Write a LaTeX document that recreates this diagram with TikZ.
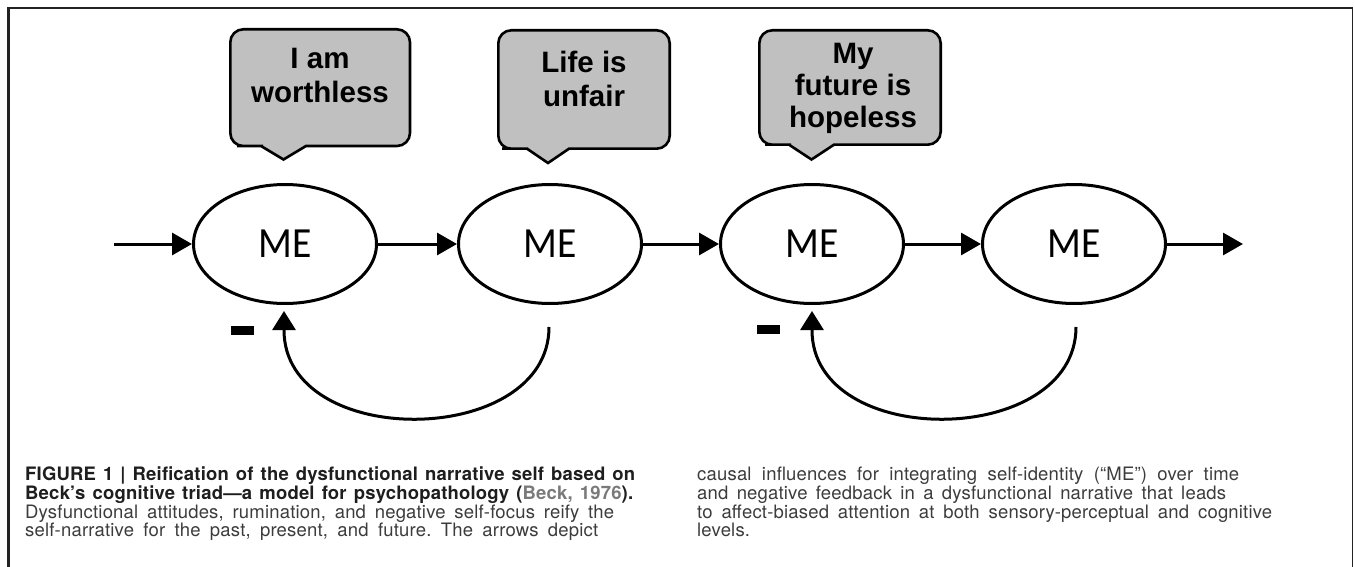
\documentclass[tikz,border=0pt]{standalone}
\usepackage{fontspec}
\setmainfont{TeX Gyre Heros}
\newfontfamily\bubblefont{Liberation Sans}
\newfontfamily\mefont[FakeStretch=0.92]{Carlito}
\newfontfamily\capfont[LetterSpace=1]{TeX Gyre Heros}
\usetikzlibrary{arrows.meta,shapes.geometric}
\definecolor{bubblegray}{HTML}{C0C0C0}
\definecolor{framegray}{HTML}{222222}
\definecolor{captext}{HTML}{3C3C3C}
\definecolor{capbold}{HTML}{1E1E1E}
\definecolor{citegray}{HTML}{7A7A7A}
\newcommand\capline[2]{\makebox[#1][s]{#2}}
\frenchspacing

\begin{document}
\begin{tikzpicture}[x=1pt,y=-1pt,
  me/.style={ellipse, draw, line width=3pt, minimum width=183pt, minimum height=119pt, inner sep=0pt, font=\mefont\fontsize{43}{43}\selectfont},
  link/.style={line width=3pt, -{Triangle[length=20pt,width=22pt]}},
  fback/.style={line width=3pt, -{Triangle[length=19pt,width=23pt]}},
  bubble/.style={draw, line width=2.6pt, fill=bubblegray},
  thought/.style={align=center, inner sep=0pt, font=\bubblefont\bfseries\fontsize{29.5}{34}\selectfont},
  minus/.style={fill, inner sep=0pt, minimum width=23pt, minimum height=9pt},
  capline/.style={anchor=base west, inner sep=0pt, font=\capfont\fontsize{18.5}{18.8}\selectfont}]
\useasboundingbox (0,0) rectangle (1355,567);

% frame
\draw[framegray, line width=2.7pt] (8.7,567) -- (8.7,6.9);
\draw[framegray, line width=2.3pt] (7.4,8) -- (1353.3,8);
\draw[framegray, line width=1.2pt] (1352.7,8) -- (1352.7,567);

% thought bubbles
\draw[bubble] (350,146) [rounded corners=13pt] -- (410,146) -- (410,29.3) -- (230.3,29.3) -- (230.3,146) -- (250,146) [sharp corners] -- (261,146) -- (283.5,159.5) -- (306,146) -- cycle;
\node[thought] (th1) at (320,75) {I am\\worthless};
\draw[bubble] (600,148.7) [rounded corners=13pt] -- (669.7,148.7) -- (669.7,30.3) -- (498.3,30.3) -- (498.3,148.7) -- (515,148.7) [sharp corners] -- (527,148.7) -- (548,163) -- (569,148.7) -- cycle;
\node[thought] (th2) at (584,79) {Life is\\unfair};
\draw[bubble] (880,144.7) [rounded corners=13pt] -- (940.7,144.7) -- (940.7,30.3) -- (759.3,30.3) -- (759.3,144.7) -- (778,144.7) [sharp corners] -- (789,144.7) -- (811.5,159.5) -- (834,144.7) -- cycle;
\node[thought, font=\bubblefont\bfseries\fontsize{29.5}{32}\selectfont] (th3) at (853,88) {My\\future is\\hopeless};

% self over time
\node[me] (me1) at (285,244) {ME};
\node[me] (me2) at (550,244) {ME};
\node[me] (me3) at (812,244) {ME};
\node[me] (me4) at (1074,244) {ME};
\coordinate (in) at (114,244);
\coordinate (out) at (1243,244);
\draw[link] (in) -- (me1);
\draw[link] (me1) -- (me2);
\draw[link] (me2) -- (me3);
\draw[link] (me3) -- (me4);
\draw[link] (me4) -- (out);

% negative feedback
\coordinate (fb1s) at (549,327);
\coordinate (fb1e) at (284,330);
\coordinate (fb1t) at (284,311);
\draw[fback] (fb1s) .. controls +(0,121) and +(0,121) .. (fb1e) -- (fb1t);
\node[minus] (neg1) at (242.5,330) {};
\coordinate (fb2s) at (1076,327);
\coordinate (fb2e) at (812,330);
\coordinate (fb2t) at (812,311);
\draw[fback] (fb2s) .. controls +(0,121) and +(0,121) .. (fb2e) -- (fb2t);
\node[minus] (neg2) at (768,329.5) {};

% caption
\node[capline, text=capbold] (capA1) at (25,480.5) {\bfseries\capline{610pt}{FIGURE 1 | Reification of the dysfunctional narrative self based on}};
\node[capline, text=capbold] (capA2) at (25,499.3) {\bfseries\capline{608pt}{Beck’s cognitive triad—a model for psychopathology (\textcolor{citegray}{Beck, 1976}).}};
\node[capline, text=captext] (capA3) at (25,518.1) {\capline{589pt}{Dysfunctional attitudes, rumination, and negative self-focus reify the}};
\node[capline, text=captext] (capA4) at (25,536.9) {\capline{573pt}{self-narrative for the past, present, and future. The arrows depict}};
\node[capline, text=captext] (capB1) at (697,480.5) {\capline{542pt}{causal influences for integrating self-identity (“ME”) over time}};
\node[capline, text=captext] (capB2) at (697,499.3) {\capline{529pt}{and negative feedback in a dysfunctional narrative that leads}};
\node[capline, text=captext] (capB3) at (697,518.1) {\capline{575pt}{to affect-biased attention at both sensory-perceptual and cognitive}};
\node[capline, text=captext] (capB4) at (697,536.9) {levels.};

\end{tikzpicture}
\end{document}
